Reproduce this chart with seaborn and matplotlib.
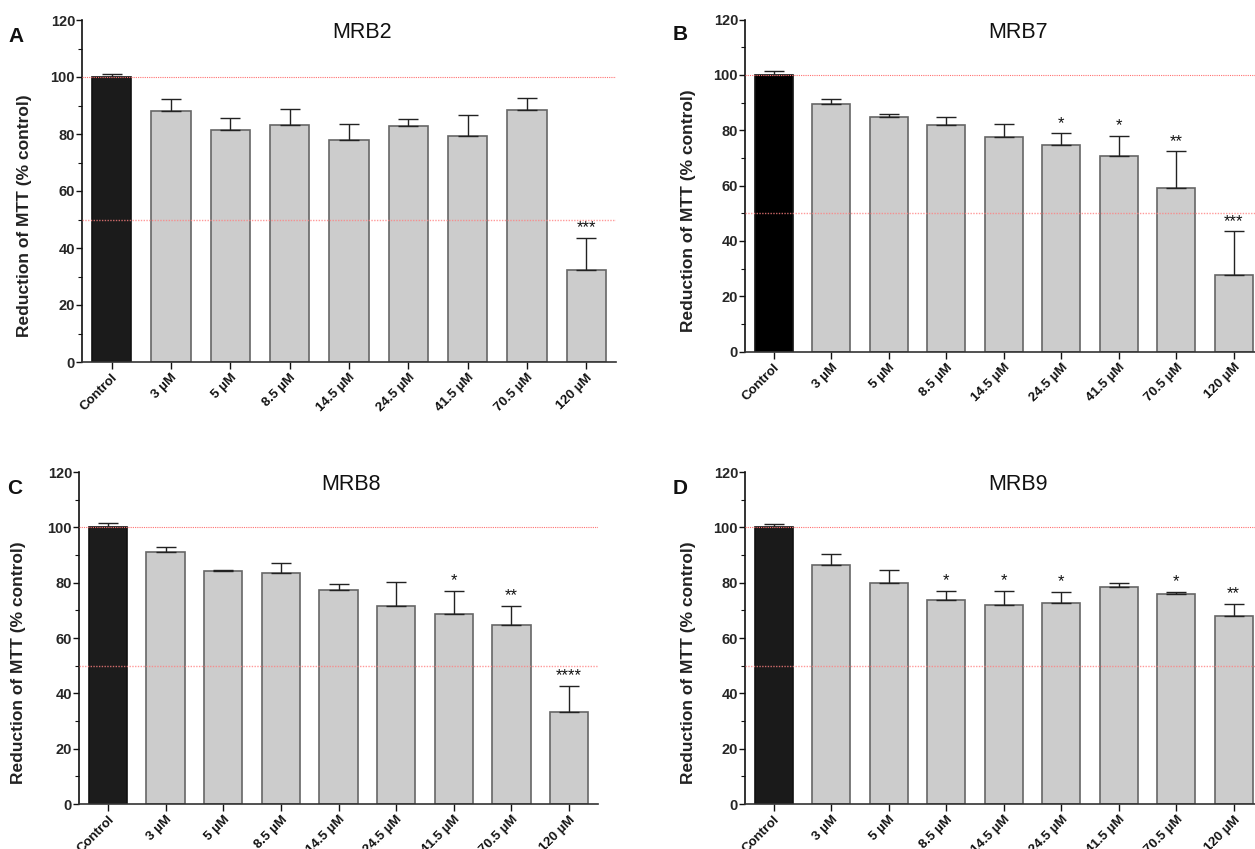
import numpy as np
import pandas as pd
import matplotlib
matplotlib.use("Agg")
import matplotlib.pyplot as plt
import seaborn as sns
from matplotlib.ticker import MultipleLocator
from matplotlib import font_manager

sns.set_theme(style="ticks")
plt.rcParams['font.family'] = ['Liberation Sans', 'DejaVu Sans']

# ---------------- data ----------------
categories = ["Control", "3 µM", "5 µM", "8.5 µM", "14.5 µM", "24.5 µM", "41.5 µM", "70.5 µM", "120 µM"]

titles = ["MRB2", "MRB7", "MRB8", "MRB9"]
letters = ["A", "B", "C", "D"]

mrb2_mean = [100, 88.0, 81.3, 83.0, 77.8, 82.7, 79.4, 88.4, 32.3]
mrb2_top = [101.2, 92.2, 85.5, 88.8, 83.5, 85.4, 86.8, 92.6, 43.5]
mrb2_sig = ["", "", "", "", "", "", "", "", "***"]

mrb7_mean = [100, 89.6, 84.8, 82.0, 77.7, 74.8, 70.5, 59.2, 27.5]
mrb7_top = [101.3, 91.2, 86.0, 84.6, 82.3, 78.8, 77.8, 72.3, 43.4]
mrb7_sig = ["", "", "", "", "", "*", "*", "**", "***"]

mrb8_mean = [100, 91.1, 84.2, 83.6, 77.2, 71.5, 68.8, 64.7, 33.4]
mrb8_top = [101.4, 92.9, 84.6, 87.2, 79.5, 80.2, 77.0, 71.7, 42.6]
mrb8_sig = ["", "", "", "", "", "", "*", "**", "****"]

mrb9_mean = [100, 86.4, 80.0, 73.7, 71.9, 72.5, 78.4, 75.8, 67.9]
mrb9_top = [101.2, 90.4, 84.4, 77.0, 77.1, 76.5, 79.7, 76.8, 72.3]
mrb9_sig = ["", "", "", "*", "*", "*", "", "*", "**"]

control_colors = ["#1b1b1b", "#000000", "#1c1c1c", "#1a1a1a"]
treat_color = "#cccccc"

panels = [
    (mrb2_mean, mrb2_top, mrb2_sig),
    (mrb7_mean, mrb7_top, mrb7_sig),
    (mrb8_mean, mrb8_top, mrb8_sig),
    (mrb9_mean, mrb9_top, mrb9_sig),
]

# ---------------- layout (pixels of a 1255x849 figure) ----------------
W, H = 1255, 849
# left, right, top, bottom in pixels, xlim right
boxes = [
    (82, 616, 20, 362, 8.5),
    (745, 1255, 19.5, 351.5, 8.37),
    (79, 598, 472, 804, 8.5),
    (745, 1255, 472, 804, 8.37),
]
title_x = [0.524, 0.535, 0.524, 0.535]
letter_pos = [(16, 36), (680, 35), (15, 488), (680, 488)]
ylabel_x = [25, 689, 19, 689]

narrow = "Liberation Sans Narrow"
avail = {f.name for f in font_manager.fontManager.ttflist}
tick_family = [narrow, "Liberation Sans", "DejaVu Sans"] if narrow in avail else ["Liberation Sans", "DejaVu Sans"]

fig = plt.figure(figsize=(W / 100, H / 100), dpi=100)

for i, ((means, tops, sig), (l, r, t, b, xr)) in enumerate(zip(panels, boxes)):
    ax = fig.add_axes([l / W, (H - b) / H, (r - l) / W, (b - t) / H])
    df = pd.DataFrame({"cat": categories, "val": means})
    pal = {c: (control_colors[i] if j == 0 else treat_color) for j, c in enumerate(categories)}
    sns.barplot(data=df, x="cat", y="val", hue="cat", palette=pal, legend=False,
                width=0.66, edgecolor="#666666", linewidth=1.2, ax=ax, saturation=1)
    for j, p in enumerate(ax.patches):
        if j == 0:
            p.set_edgecolor("#111111")
    xs = np.arange(len(categories))
    err = np.array(tops) - np.array(means)
    ax.errorbar(xs, means, yerr=[np.zeros_like(err), err], fmt="none",
                ecolor="#222222", elinewidth=1.0, capsize=7.5, capthick=1.0, zorder=3)
    for x, tp, s in zip(xs, tops, sig):
        if s:
            ax.annotate(s, (x, tp), xytext=(0, 2), textcoords="offset points",
                        ha="center", va="bottom", fontsize=12, color="#111111")
    ax.axhline(100, color="#ff7070", linestyle=(0, (1, 1)), linewidth=0.8, zorder=4)
    ax.axhline(50, color="#ff8080", linestyle=(0, (1, 1)), linewidth=1.0, alpha=0.8, zorder=4)

    ax.set_ylim(0, 120)
    ax.set_xlim(-0.5, xr)
    ax.yaxis.set_major_locator(MultipleLocator(20))
    ax.yaxis.set_minor_locator(MultipleLocator(10))
    ax.tick_params(axis="y", which="major", length=4, width=1.0, pad=1, labelsize=10.5, color="#111111")
    ax.tick_params(axis="y", which="minor", length=3, width=0.8, color="#111111")
    ax.tick_params(axis="x", which="major", length=5, width=1.0, pad=2, color="#111111")
    for lab in ax.get_yticklabels():
        lab.set_family(tick_family)
        lab.set_fontweight("bold")
    ax.set_xticks(xs)
    ax.set_xticklabels(categories, rotation=45, ha="right", va="top", rotation_mode="anchor",
                       fontsize=9.5, fontweight="bold", family=tick_family, color="#111111")
    ax.set_xlabel("")
    ax.set_ylabel("")
    for sp in ["top", "right"]:
        ax.spines[sp].set_visible(False)
    ax.spines["left"].set_linewidth(1.2)
    ax.spines["left"].set_color("#111111")
    ax.spines["bottom"].set_linewidth(1.2)
    ax.spines["bottom"].set_color("#333333")
    ax.text(title_x[i], 1 - 12.5 / (b - t), titles[i], transform=ax.transAxes,
            ha="center", va="center", fontsize=15.5, color="#111111")
    lx, ly = letter_pos[i]
    fig.text(lx / W, 1 - ly / H, letters[i], ha="center", va="center",
             fontsize=15, fontweight="bold", color="#111111")
    fig.text(ylabel_x[i] / W, 1 - ((t + b) / 2 + 25) / H, "Reduction of MTT (% control)",
             rotation=90, ha="center", va="center", fontsize=12.5, fontweight="bold", color="#222222")

fig.savefig("out.png", dpi=100)
